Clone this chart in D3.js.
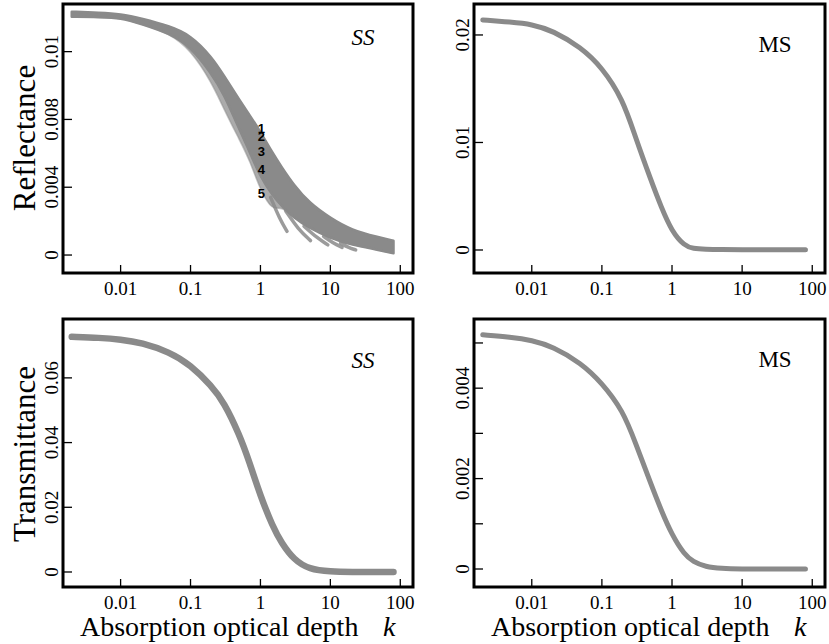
<!DOCTYPE html>
<html>
<head>
<meta charset="utf-8">
<script src="https://cdnjs.cloudflare.com/ajax/libs/d3/7.8.5/d3.min.js"></script>
<style>
    body { margin: 0; background: #fff; }
    text { font-family: "Liberation Serif", "DejaVu Serif", "Times New Roman", serif; fill: #000; }
</style>
</head>
<body>
<div id="chart"></div>
<script>
// absorption optical depth k (shared by every curve)
var kValues = [0.002, 0.005, 0.01, 0.02, 0.05, 0.1, 0.2, 0.3, 0.5, 0.7, 1, 1.5, 2, 3, 5, 10, 20, 50, 80];

// single scattering reflectance: spread of curves (upper edge, dense lower edge, speckled lower edge)
var reflSSUpper = [0.01436, 0.0143, 0.01422, 0.01396, 0.01351, 0.01298, 0.0117, 0.0106, 0.00914, 0.00826, 0.00727, 0.0060, 0.0052, 0.00413, 0.00307, 0.00218, 0.00147, 0.00104, 0.00084];
var reflSSMid   = [0.01406, 0.01403, 0.0140, 0.01363, 0.01308, 0.0123, 0.0107, 0.0095, 0.0074, 0.0061, 0.0046, 0.0035, 0.0029, 0.0022, 0.0016, 0.0010, 0.0006, 0.0003, 0.0001];
var reflSSLower = [0.01406, 0.01403, 0.0140, 0.01363, 0.01308, 0.0121, 0.0102, 0.0086, 0.0068, 0.0056, 0.0038, 0.0026, 0.0029, 0.0022, 0.0016, 0.0010, 0.0006, 0.0003, 0.0001];

// branches that fall away below the band
var fingerK = [[1.4, 1.9, 2.4], [2.3, 3.5, 5.2], [4.2, 6.5, 9.2], [8, 11, 14.7], [14, 18, 23]];
var fingerV = [[0.0034, 0.0021, 0.0014], [0.0026, 0.0015, 0.00085], [0.0017, 0.0010, 0.0006], [0.0011, 0.0007, 0.00045], [0.0007, 0.00045, 0.0003]];

// curve numbers written at k = 1
var curveNumbers = ["1", "2", "3", "4", "5"];
var curveNumberValues = [0.00745, 0.00700, 0.00614, 0.00507, 0.00366];

var reflMS  = [0.0214, 0.0212, 0.0210, 0.0204, 0.01885, 0.0170, 0.0140, 0.0105, 0.0065, 0.0040, 0.0017, 0.0004, 0.00012, 0.00006, 0.00004, 0.00003, 0.00003, 0.00003, 0.00003];
var transSS = [0.0727, 0.0724, 0.0719, 0.0709, 0.0680, 0.0640, 0.0575, 0.0525, 0.0425, 0.0338, 0.0235, 0.0140, 0.0090, 0.0038, 0.0008, 0.0001, 0, 0, 0];
var transMS = [0.00518, 0.00513, 0.00506, 0.00492, 0.00456, 0.00412, 0.0035, 0.0028, 0.00188, 0.0013, 0.00075, 0.00032, 0.00016, 0.00005, 0.00001, 0, 0, 0, 0];

var xTicks = [0.01, 0.1, 1, 10, 100];
var xTickLabels = ["0.01", "0.1", "1", "10", "100"];

var reflSSTicks = [0, 0.004, 0.008, 0.012];
var reflSSTickLabels = ["0", "0.004", "0.008", "0.01"];
var reflMSTicks = [0, 0.01, 0.02];
var reflMSTickLabels = ["0", "0.01", "0.02"];
var transSSTicks = [0, 0.02, 0.04, 0.06];
var transSSTickLabels = ["0", "0.02", "0.04", "0.06"];
var transMSTicks = [0, 0.001, 0.002, 0.003, 0.004, 0.005];
var transMSTickLabels = ["0", "", "0.002", "", "0.004", ""];

(function() {
    var width = 829,
        height = 644,
        gray = "#8a8a8a",
        serif = "'Liberation Serif', 'DejaVu Serif', 'Times New Roman', serif";

    var svg = d3.select("#chart")
        .append("svg")
        .attr("width", width)
        .attr("height", height);

    var panels = [
        { left: 63, right: 413, top: 4, bottom: 273, yDomain: [-0.00106, 0.01481],
          ticks: reflSSTicks, labels: reflSSTickLabels, tag: "SS", italic: true, tagY: 45 },
        { left: 474, right: 825, top: 4, bottom: 273, yDomain: [-0.00214, 0.02288],
          ticks: reflMSTicks, labels: reflMSTickLabels, tag: "MS", italic: false, tagY: 52, values: reflMS, lineWidth: 5 },
        { left: 63, right: 413, top: 319, bottom: 587, yDomain: [-0.00464, 0.0782],
          ticks: transSSTicks, labels: transSSTickLabels, tag: "SS", italic: true, tagY: 368, values: transSS, lineWidth: 6.5 },
        { left: 474, right: 825, top: 319, bottom: 587, yDomain: [-0.000398, 0.00553],
          ticks: transMSTicks, labels: transMSTickLabels, tag: "MS", italic: false, tagY: 367, values: transMS, lineWidth: 5 }
    ];

    panels.forEach(function(p, i) {
        var xPositionScale = d3.scaleLog()
            .domain([0.0015, 152])
            .range([p.left, p.right]);

        var yPositionScale = d3.scaleLinear()
            .domain(p.yDomain)
            .range([p.bottom, p.top]);

        var g = svg.append("g").attr("class", "panel");

        if (p.values) {
            var line = d3.line()
                .x(function(d, j) { return xPositionScale(kValues[j]); })
                .y(function(d) { return yPositionScale(d); })
                .curve(d3.curveBasis);

            g.append("path")
                .datum(p.values)
                .attr("d", line)
                .attr("fill", "none")
                .attr("stroke", gray)
                .attr("stroke-width", p.lineWidth)
                .attr("stroke-linecap", "round");
        } else {
            // speckled part of the band
            var lowArea = d3.area()
                .x(function(d, j) { return xPositionScale(kValues[j]); })
                .y0(function(d, j) { return yPositionScale(reflSSLower[j]); })
                .y1(function(d) { return yPositionScale(d); })
                .curve(d3.curveBasis);

            g.append("path")
                .datum(reflSSMid)
                .attr("d", lowArea)
                .attr("fill", gray)
                .attr("fill-opacity", 0.72)
                .attr("stroke", gray)
                .attr("stroke-opacity", 0.5)
                .attr("stroke-width", 1.5);

            var band = d3.area()
                .x(function(d, j) { return xPositionScale(kValues[j]); })
                .y0(function(d, j) { return yPositionScale(reflSSMid[j]); })
                .y1(function(d) { return yPositionScale(d); })
                .curve(d3.curveBasis);

            g.append("path")
                .datum(reflSSUpper)
                .attr("d", band)
                .attr("fill", gray)
                .attr("stroke", gray)
                .attr("stroke-width", 2.5)
                .attr("stroke-linejoin", "round");

            var fingerLine = d3.line()
                .x(function(d) { return xPositionScale(d[0]); })
                .y(function(d) { return yPositionScale(d[1]); })
                .curve(d3.curveBasis);

            g.selectAll(".finger")
                .data(fingerK)
                .enter().append("path")
                .attr("class", "finger")
                .attr("d", function(ks, j) {
                    return fingerLine(ks.map(function(k, n) { return [k, fingerV[j][n]]; }));
                })
                .attr("fill", "none")
                .attr("stroke", gray)
                .attr("stroke-opacity", 0.85)
                .attr("stroke-width", 3.5)
                .attr("stroke-linecap", "round");

            g.selectAll(".curve-number")
                .data(curveNumbers)
                .enter().append("text")
                .attr("class", "curve-number")
                .attr("x", xPositionScale(1) + 1)
                .attr("y", function(d, j) { return yPositionScale(curveNumberValues[j]); })
                .attr("dy", "0.35em")
                .attr("text-anchor", "middle")
                .style("font-family", "'Liberation Sans', Arial, sans-serif")
                .style("font-weight", "bold")
                .style("font-size", "13px")
                .text(function(d) { return d; });
        }

        // frame
        g.append("rect")
            .attr("x", p.left)
            .attr("y", p.top)
            .attr("width", p.right - p.left)
            .attr("height", p.bottom - p.top)
            .attr("fill", "none")
            .attr("stroke", "#000")
            .attr("stroke-width", 3);

        // x ticks (inward)
        g.selectAll(".x-tick")
            .data(xTicks)
            .enter().append("line")
            .attr("class", "x-tick")
            .attr("x1", function(d) { return xPositionScale(d); })
            .attr("x2", function(d) { return xPositionScale(d); })
            .attr("y1", p.bottom)
            .attr("y2", p.bottom - 8)
            .attr("stroke", "#000")
            .attr("stroke-width", 1.3);

        g.selectAll(".x-label")
            .data(xTickLabels)
            .enter().append("text")
            .attr("class", "x-label")
            .attr("x", function(d, j) { return xPositionScale(xTicks[j]); })
            .attr("y", p.bottom + 22)
            .attr("text-anchor", "middle")
            .style("font-family", serif)
            .style("font-size", "19px")
            .text(function(d) { return d; });

        // y ticks (inward)
        g.selectAll(".y-tick")
            .data(p.ticks)
            .enter().append("line")
            .attr("class", "y-tick")
            .attr("x1", p.left)
            .attr("x2", p.left + 9)
            .attr("y1", function(d) { return yPositionScale(d); })
            .attr("y2", function(d) { return yPositionScale(d); })
            .attr("stroke", "#000")
            .attr("stroke-width", 1.3);

        g.selectAll(".y-label")
            .data(p.labels)
            .enter().append("text")
            .attr("class", "y-label")
            .attr("transform", function(d, j) {
                return "translate(" + (p.left - 5) + "," + yPositionScale(p.ticks[j]) + ") rotate(-90)";
            })
            .attr("text-anchor", "middle")
            .style("font-family", serif)
            .style("font-size", "19px")
            .text(function(d) { return d; });

        g.append("text")
            .attr("x", p.right - 50)
            .attr("y", p.tagY)
            .attr("text-anchor", "middle")
            .style("font-family", serif)
            .style("font-size", "23px")
            .style("font-style", p.italic ? "italic" : "normal")
            .text(p.tag);

        if (i >= 2) {
            g.append("text")
                .attr("x", p.left + 17)
                .attr("y", 636)
                .style("font-family", serif)
                .style("font-size", "28px")
                .text("Absorption optical depth");
            g.append("text")
                .attr("x", p.left + 320)
                .attr("y", 636)
                .style("font-family", serif)
                .style("font-size", "28px")
                .style("font-style", "italic")
                .text("k");
        }
    });

    svg.append("text")
        .attr("transform", "translate(35,138) rotate(-90)")
        .attr("text-anchor", "middle")
        .style("font-family", serif)
        .style("font-size", "31px")
        .text("Reflectance");

    svg.append("text")
        .attr("transform", "translate(35,454) rotate(-90)")
        .attr("text-anchor", "middle")
        .style("font-family", serif)
        .style("font-size", "31px")
        .text("Transmittance");
})();
</script>
</body>
</html>
